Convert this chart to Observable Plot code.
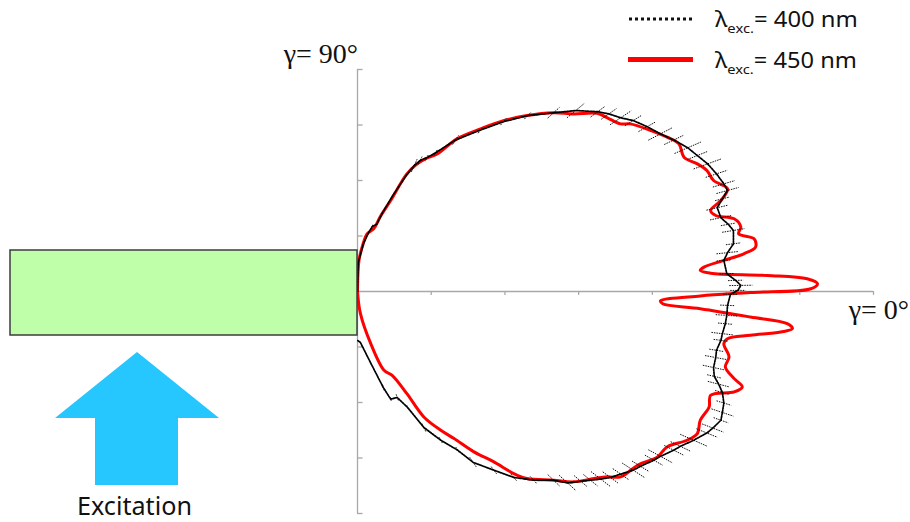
<!DOCTYPE html>
<html>
<head>
<meta charset="utf-8">
<script src="https://cdn.jsdelivr.net/npm/d3@7"></script>
<script src="https://cdn.jsdelivr.net/npm/@observablehq/plot@0.6"></script>
<style>
  body { margin: 0; background: #fff; }
  #chart { width: 910px; height: 522px; }
</style>
</head>
<body>
<div id="chart"></div>
<script>
// Emission pattern in the x–y plane (γ = 0° along x, γ = 90° along y), traced from the γ = 90° side round to −90°.
const seriesLabels = ["400 nm", "450 nm"];

// λexc. = 450 nm
const emission450 = [
  [0,0],[0.02,0.56],[0.07,0.83],[0.13,1.04],[0.22,1.13],[0.31,1.35],[0.45,1.64],[0.67,2.12],
  [0.81,2.30],[0.92,2.39],[1.08,2.48],[1.35,2.75],[1.67,2.93],[1.99,3.08],[2.30,3.17],[2.66,3.22],
  [2.93,3.20],[3.25,3.21],[3.39,3.13],[3.57,3.02],[3.70,3.02],[3.98,2.90],[4.20,2.78],[4.36,2.66],
  [4.43,2.42],[4.61,2.30],[4.74,2.18],[4.83,2.00],[5.02,1.85],[4.93,1.64],[4.79,1.46],[4.86,1.37],
  [5.11,1.31],[5.20,1.16],[5.17,1.04],[5.38,0.95],[5.40,0.80],[5.24,0.68],[4.97,0.56],[4.70,0.44],
  [4.65,0.38],[4.79,0.33],[5.56,0.29],[6.10,0.23],[6.24,0.14],[6.15,0.05],[5.33,-0.02],[4.65,-0.08],
  [4.11,-0.17],[4.14,-0.22],[4.65,-0.31],[5.33,-0.46],[5.83,-0.58],[5.90,-0.67],[5.74,-0.73],[5.33,-0.79],
  [5.02,-0.85],[4.97,-0.94],[5.04,-1.18],[4.99,-1.36],[5.11,-1.57],[5.22,-1.72],[5.11,-1.81],[4.79,-1.87],
  [4.77,-2.08],[4.65,-2.32],[4.61,-2.56],[4.47,-2.68],[4.20,-2.80],[4.07,-2.98],[3.80,-3.13],[3.57,-3.34],
  [3.39,-3.34],[3.21,-3.37],[2.93,-3.43],[2.66,-3.40],[2.30,-3.37],[2.12,-3.28],[1.85,-3.07],[1.58,-2.89],
  [1.31,-2.65],[1.13,-2.50],[0.90,-2.26],[0.67,-1.84],[0.47,-1.51],[0.36,-1.42],[0.18,-0.94],[0.04,-0.40],[0,0]
];

// λexc. = 400 nm
const emission400 = [
  [0,0],[0.01,0.52],[0.08,0.86],[0.15,1.06],[0.20,1.17],[0.26,1.21],[0.34,1.42],[0.47,1.71],
  [0.65,2.07],[0.77,2.27],[0.85,2.36],[0.94,2.41],[1.06,2.50],[1.33,2.73],[1.67,2.91],[1.98,3.06],
  [2.31,3.17],[2.66,3.22],[2.96,3.26],[3.26,3.24],[3.41,3.20],[3.57,3.13],[3.74,3.08],[3.93,2.97],
  [4.11,2.84],[4.29,2.73],[4.48,2.59],[4.61,2.45],[4.75,2.30],[4.87,2.12],[4.97,1.94],[5.02,1.82],
  [4.95,1.67],[4.88,1.51],[4.93,1.33],[5.03,1.21],[5.10,1.10],[5.10,0.86],[5.02,0.70],[4.97,0.56],
  [5.01,0.32],[5.13,0.20],[5.20,0.11],[5.16,0.02],[5.06,-0.05],[5.02,-0.25],[5.01,-0.43],[4.99,-0.58],
  [4.95,-0.76],[4.93,-0.88],[4.87,-1.06],[4.86,-1.19],[4.83,-1.37],[4.84,-1.53],[4.90,-1.67],[4.95,-1.82],
  [4.97,-2.01],[4.95,-2.18],[4.93,-2.32],[4.82,-2.46],[4.74,-2.55],[4.56,-2.68],[4.38,-2.79],[4.29,-2.86],
  [4.11,-2.97],[4.02,-3.04],[3.84,-3.15],[3.74,-3.22],[3.57,-3.29],[3.43,-3.35],[3.30,-3.38],[3.16,-3.40],
  [3.03,-3.42],[2.85,-3.45],[2.66,-3.40],[2.39,-3.40],[2.12,-3.35],[1.85,-3.22],[1.57,-3.08],[1.36,-2.86],
  [1.13,-2.68],[0.90,-2.45],[0.68,-2.09],[0.54,-1.91],[0.45,-1.94],[0.35,-1.73],[0.18,-1.29],[0.04,-0.92],[0,-0.88]
];

// relative (radial) error of each 400 nm point
const error400 = [
  0,0.01,0.01,0.02,0.04,0.01,0.01,0.02,0.02,0.05,0.03,0.02,0.02,0.03,0.02,0.02,
  0.02,0.03,0.04,0.03,0.03,0.04,0.03,0.03,0.04,0.03,0.04,0.03,0.04,0.03,0.03,0.03,
  0.02,0.03,0.03,0.02,0.03,0.02,0.03,0.02,0.02,0.02,0.03,0.02,0.02,0.02,0.03,0.02,
  0.03,0.02,0.02,0.03,0.03,0.02,0.03,0.02,0.02,0.03,0.02,0.03,0.03,0.04,0.03,0.03,
  0.04,0.03,0.03,0.04,0.03,0.03,0.04,0.03,0.03,0.04,0.03,0.02,0.02,0.02,0.03,0.02,
  0.02,0.03,0.02,0.03,0.02,0.03,0.02,0.02,0.01
];

const xTicks = [1, 2, 3, 4, 5, 6, 7];
const yTicks = [-4, -3, -2, -1, 1, 2, 3, 4];
const angleLabels = ["γ= 90°", "γ= 0°"];
const excitationLabel = "Excitation";

const AXIS = "#a8a8a8";
const RED = "#ff0000";
const INK = "#111";
const SERIF = "'Liberation Serif', 'Times New Roman', Times, 'DejaVu Serif', serif";

const bars400 = emission400.map((p, i) => ({ p, e: error400[i] }));

const plot = Plot.plot({
  width: 910,
  height: 522,
  marginLeft: 357,
  marginRight: 37,
  marginTop: 69,
  marginBottom: 9,
  x: { domain: [0, 7], axis: null },
  y: { domain: [-4, 4], axis: null },
  marks: [
    // axes through the origin
    Plot.ruleY([0], { x1: 0, x2: 7, stroke: AXIS, strokeWidth: 1.3 }),
    Plot.ruleX([0], { y1: -4, y2: 4, stroke: AXIS, strokeWidth: 1.3 }),
    Plot.ruleX(xTicks, { x: d => d, y1: 0, y2: -0.07, stroke: AXIS, strokeWidth: 1.3 }),
    Plot.ruleY(yTicks, { y: d => d, x1: 0, x2: 0.075, stroke: AXIS, strokeWidth: 1.3 }),
    // emission curves
    Plot.line(emission450, { x: d => d[0], y: d => d[1], stroke: RED, strokeWidth: 3, curve: "catmull-rom" }),
    Plot.link(bars400, {
      x1: d => d.p[0] * (1 - d.e), y1: d => d.p[1] * (1 - d.e),
      x2: d => d.p[0] * (1 + d.e), y2: d => d.p[1] * (1 + d.e),
      stroke: INK, strokeWidth: 1, strokeDasharray: "1.5,1"
    }),
    Plot.line(emission400, { x: d => d[0], y: d => d[1], stroke: "#000", strokeWidth: 1.7, strokeDasharray: "1.8,1.1" })
  ]
});

document.getElementById("chart").appendChild(plot);

const svg = d3.select(plot);
const sx = plot.scale("x"), sy = plot.scale("y");
const x0 = sx.apply(0), y0 = sy.apply(0);

// angle labels at the ends of the two axes
svg.append("text")
  .attr("x", x0 + 1).attr("y", sy.apply(4) - 6)
  .attr("text-anchor", "end").attr("fill", INK).attr("font-size", 28)
  .style("font-family", SERIF)
  .text(angleLabels[0]);
svg.append("text")
  .attr("x", sx.apply(7) + 36).attr("y", y0 + 28)
  .attr("text-anchor", "end").attr("fill", INK).attr("font-size", 28)
  .style("font-family", SERIF)
  .text(angleLabels[1]);

// Illustration: the sample slab and the excitation arrow, left of the origin.
svg.append("rect")
  .attr("x", 10).attr("y", y0 - 41)
  .attr("width", x0 - 10).attr("height", 85)
  .attr("fill", "#c0ffaa").attr("stroke", "#3c3c3c").attr("stroke-width", 1.5);

svg.append("polygon")
  .attr("points", [[137,352],[219,418],[178,418],[178,485],[95,485],[95,418],[55,418]].map(p => p.join(",")).join(" "))
  .attr("fill", "#26c6ff");

// sans text, widened horizontally to a given length
function wideText(g, parts, x, y, size, width, anchor) {
  const t = g.append("text")
    .attr("font-family", "'Noto Sans', 'Open Sans', sans-serif")
    .attr("font-size", size).attr("fill", INK).attr("text-anchor", "start");
  parts.forEach(p => {
    const s = t.append("tspan").text(p.text);
    if (p.sub) s.attr("font-size", size * 0.62).attr("dy", size * 0.28);
    if (p.up) s.attr("dy", -size * 0.28);
  });
  const w = t.node().getComputedTextLength();
  const k = width / w;
  const left = anchor === "middle" ? x - width / 2 : x;
  t.attr("transform", `translate(${left},${y}) scale(${k},1)`);
  return t;
}

wideText(svg, [{ text: excitationLabel }], 134.5, 515, 25, 115, "middle");

// legend
const legend = svg.append("g");
legend.append("line").attr("x1", 629).attr("x2", 693).attr("y1", 19).attr("y2", 19)
  .attr("stroke", INK).attr("stroke-width", 3.2).attr("stroke-dasharray", "3,3");
legend.append("line").attr("x1", 628).attr("x2", 693).attr("y1", 59.5).attr("y2", 59.5)
  .attr("stroke", RED).attr("stroke-width", 5);
wideText(legend, [{ text: "λ" }, { text: "exc.", sub: true }, { text: "= " + seriesLabels[0], up: true }], 715, 27, 21, 143);
wideText(legend, [{ text: "λ" }, { text: "exc.", sub: true }, { text: "= " + seriesLabels[1], up: true }], 715, 68, 21, 142);
</script>
</body>
</html>
